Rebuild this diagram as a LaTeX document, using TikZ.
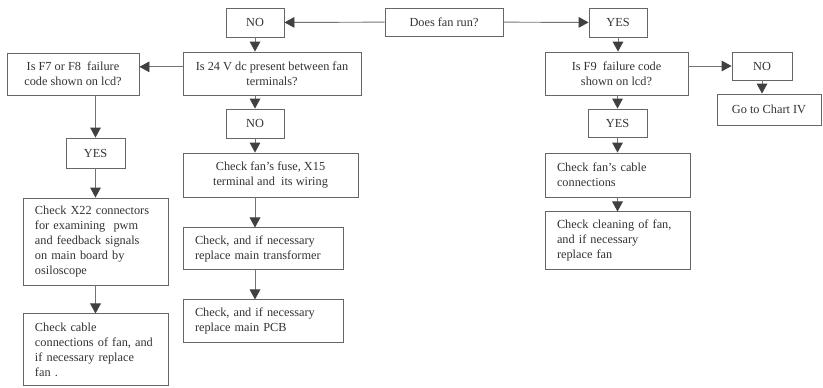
\documentclass[tikz,border=0pt]{standalone}
\usepackage{fontspec}
\setmainfont{Liberation Serif}
\usetikzlibrary{arrows.meta, positioning}

\begin{document}
\begin{tikzpicture}[
    x=0.03cm, y=-0.03cm,
    box/.style={rectangle, draw=black!60, line width=0.8pt, fill=white, inner sep=0pt, align=center, text=black!80, font=\fontsize{10.5}{12.8}\selectfont},
    lbox/.style={box, align=left, inner xsep=0.36cm},
    line/.style={draw=black!55, line width=0.8pt, -{Triangle[length=3mm, width=3.2mm, color=black!75]}}
]
    \useasboundingbox (0,0) rectangle (823,387);

    % Top row
    \node[box, minimum width=3.54cm, minimum height=0.84cm] (Q_RUN) at (444,22) {Does fan run?};
    \node[box, minimum width=1.74cm, minimum height=0.87cm] (NO_RUN) at (255,22.5) {NO};
    \node[box, minimum width=1.74cm, minimum height=0.87cm] (YES_RUN) at (618,22.5) {YES};

    % Fan does not run
    \node[box, minimum width=5.34cm, minimum height=1.29cm] (Q_24V) at (272,73.5) {Is 24 V dc present between fan\\terminals?};
    \node[box, minimum width=3.96cm, minimum height=1.26cm] (Q_F78) at (73,74) {Is F7 or F8~ failure\\code shown on lcd?};
    \node[box, minimum width=1.74cm, minimum height=0.87cm] (NO_24V) at (255,123.5) {NO};
    \node[box, minimum width=5.25cm, minimum height=1.32cm] (C_FUSE) at (270.5,175) {Check fan's fuse, X15\\terminal and~ its wiring};
    \node[lbox, text width=4.08cm, minimum height=1.26cm, below=0.9cm of C_FUSE.south west, anchor=north west] (C_TRAFO) {Check, and if necessary\\replace main transformer};
    \node[lbox, text width=4.08cm, minimum height=1.29cm, below=0.87cm of C_TRAFO.south west, anchor=north west] (C_PCB) {Check, and if necessary\\replace main PCB};

    \node[box, minimum width=1.77cm, minimum height=0.9cm] (YES_F78) at (95.5,153) {YES};
    \node[lbox, text width=3.63cm, minimum height=2.61cm] (C_X22) at (95.5,241.5) {Check X22 connectors\\for examining~ pwm\\and feedback signals\\on main board by\\osiloscope};
    \node[lbox, text width=3.63cm, minimum height=2.16cm, below=0.84cm of C_X22] (C_CABLE) {Check cable\\connections of fan, and\\if necessary replace\\fan .};

    % Fan runs
    \node[box, minimum width=4.29cm, minimum height=1.29cm] (Q_F9) at (616.5,73.5) {Is F9~ failure code\\shown on lcd?};
    \node[box, minimum width=1.8cm, minimum height=0.84cm] (NO_F9) at (762,66) {NO};
    \node[box, minimum width=3.12cm, minimum height=0.93cm] (CHART4) at (769,109.5) {Go to Chart IV};
    \node[box, minimum width=1.77cm, minimum height=0.84cm] (YES_F9) at (617.5,123) {YES};
    \node[lbox, text width=3.63cm, minimum height=1.32cm] (C_FANCABLE) at (617.5,175) {Check fan's cable\\connections};
    \node[lbox, text width=3.63cm, minimum height=1.74cm, below=0.42cm of C_FANCABLE] (C_CLEAN) {Check cleaning of fan,\\and if necessary\\replace fan};

    % Connections
    \draw[line] (Q_RUN) -- (NO_RUN);
    \draw[line] (Q_RUN) -- (YES_RUN);

    \draw[line] (NO_RUN) -- (NO_RUN |- Q_24V.north);
    \draw[line] ([yshift=2mm]Q_24V.west) -- ([yshift=2mm]Q_24V.west -| Q_F78.east);
    \draw[line] (NO_24V |- Q_24V.south) -- (NO_24V);
    \draw[line] (NO_24V) -- (NO_24V |- C_FUSE.north);
    \draw[line] (NO_24V |- C_FUSE.south) -- (NO_24V |- C_TRAFO.north);
    \draw[line] (NO_24V |- C_TRAFO.south) -- (NO_24V |- C_PCB.north);

    \draw[line] (YES_F78 |- Q_F78.south) -- (YES_F78);
    \draw[line] (YES_F78) -- (C_X22);
    \draw[line] (C_X22) -- (C_CABLE);

    \draw[line] (YES_RUN) -- (YES_RUN |- Q_F9.north);
    \draw[line] (Q_F9.east |- NO_F9) -- (NO_F9);
    \draw[line] (NO_F9) -- (NO_F9 |- CHART4.north);
    \draw[line] (YES_F9 |- Q_F9.south) -- (YES_F9);
    \draw[line] (YES_F9) -- (C_FANCABLE);
    \draw[line] (C_FANCABLE) -- (C_CLEAN);
\end{tikzpicture}
\end{document}
